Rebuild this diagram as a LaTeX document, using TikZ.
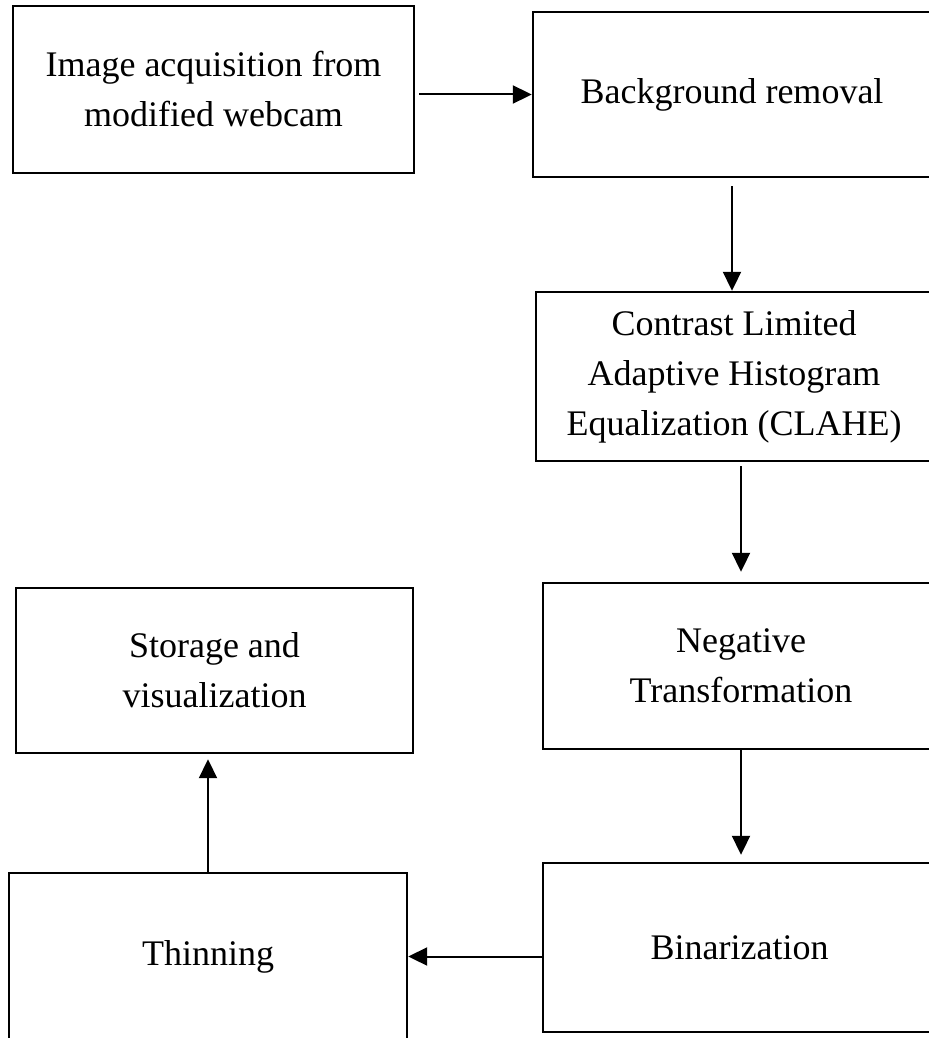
\documentclass[tikz,border=0pt]{standalone}
\usepackage{fontspec}
\setmainfont{Liberation Serif}
\usetikzlibrary{arrows.meta}
\begin{document}
\begin{tikzpicture}[x=0.5pt,y=-0.5pt,
		every node/.style={font=\fontsize{18}{25}\selectfont,align=center},
		stage/.style={draw,line width=1.2pt,inner sep=0pt,minimum height=83pt},
		flow/.style={line width=1pt,-{Triangle[length=9.5pt,width=9pt]}}]
			\useasboundingbox (0,0) rectangle (929,1038);
			\node[stage,minimum width=200.5pt,minimum height=83.5pt](acq) at (213.5,89.5) {Image acquisition from\\modified webcam};
			\node[stage,minimum width=199pt,minimum height=82.5pt](bgr) at (732,94.5) {Background removal};
			\node[stage,minimum width=198pt,minimum height=84.5pt](clahe) at (734,376.5) {Contrast Limited\\Adaptive Histogram\\Equalization (CLAHE)};
			\node[stage,minimum width=198pt,minimum height=83pt](negtr) at (741,666) {Negative\\Transformation};
			\node[stage,minimum width=196.5pt,minimum height=84.5pt](binar) at (739.5,947.5) {Binarization};
			\node[stage,minimum width=199pt,minimum height=83.5pt](thin) at (208,956.5) {Thinning};
			\node[stage,minimum width=198.5pt,minimum height=82.5pt](store) at (214.5,670.5) {Storage and\\visualization};
			% flow of the stages
			\draw[flow,shorten <=2pt] (acq.east |- bgr.west) -- (bgr.west);
			\draw[flow,shorten <=4pt] (bgr.south) -- (bgr.south |- clahe.north);
			\draw[flow,shorten <=2pt,shorten >=5pt] (clahe.south -| negtr.north) -- (negtr.north);
			\draw[flow,shorten >=3.5pt] (negtr.south) -- (negtr.south |- binar.north);
			\draw[flow] (binar.west |- thin.east) -- (thin.east);
			\draw[flow,shorten >=2.5pt] (thin.north) -- (thin.north |- store.south);
		\end{tikzpicture}
\end{document}
